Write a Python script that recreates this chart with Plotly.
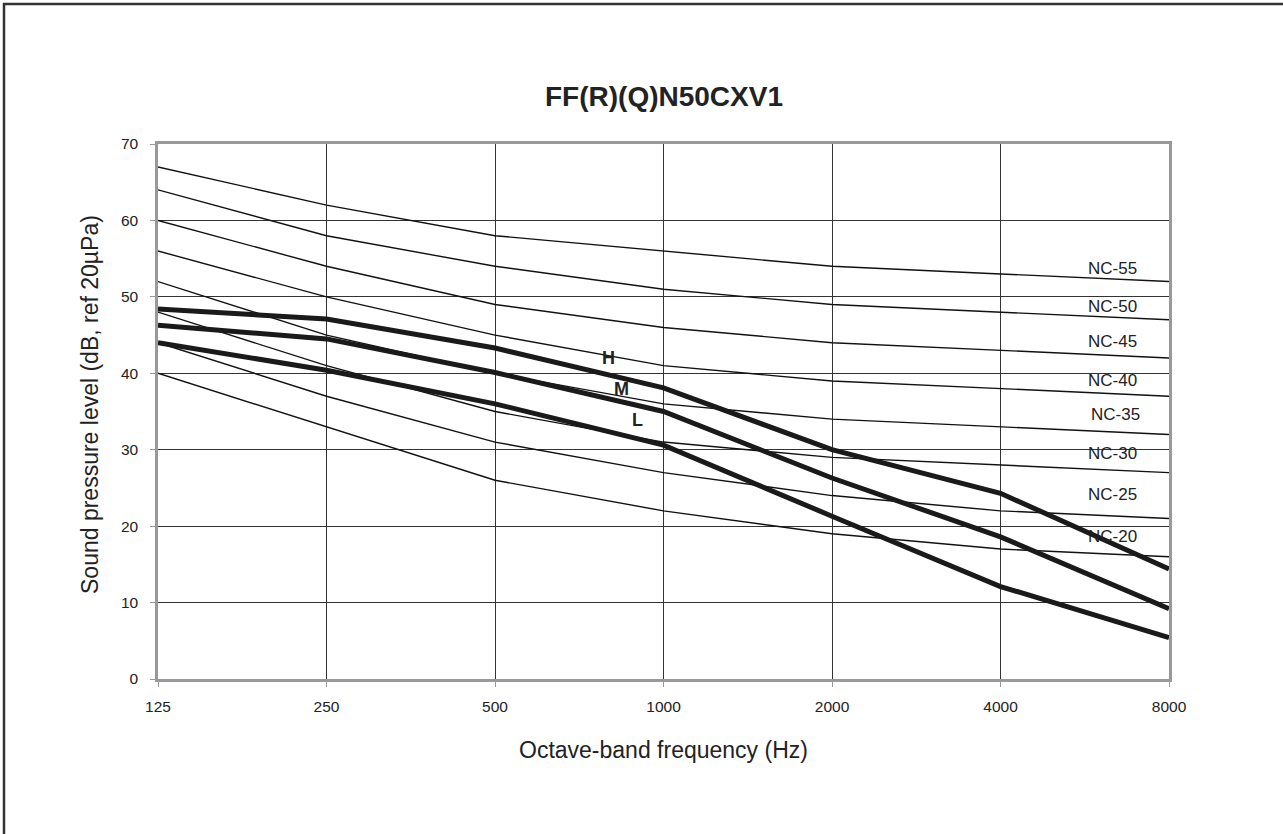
import plotly.graph_objects as go
import math

freqs = [125, 250, 500, 1000, 2000, 4000, 8000]
freq_labels = ["125", "250", "500", "1000", "2000", "4000", "8000"]
y_ticks = [0, 10, 20, 30, 40, 50, 60, 70]

nc_names = ["NC-20", "NC-25", "NC-30", "NC-35", "NC-40", "NC-45", "NC-50", "NC-55"]
nc20 = [40, 33, 26, 22, 19, 17, 16]
nc25 = [44, 37, 31, 27, 24, 22, 21]
nc30 = [48, 41, 35, 31, 29, 28, 27]
nc35 = [52, 45, 40, 36, 34, 33, 32]
nc40 = [56, 50, 45, 41, 39, 38, 37]
nc45 = [60, 54, 49, 46, 44, 43, 42]
nc50 = [64, 58, 54, 51, 49, 48, 47]
nc55 = [67, 62, 58, 56, 54, 53, 52]
nc_curves = [nc20, nc25, nc30, nc35, nc40, nc45, nc50, nc55]

# NC label positions
nc_label_x = [6330, 6330, 6330, 6420, 6330, 6330, 6330, 6330]
nc_label_y = [18.7, 24.1, 29.5, 34.6, 39.0, 44.2, 48.8, 53.7]

speed_names = ["H", "M", "L"]
h_vals = [48.4, 47.1, 43.3, 38.1, 30.0, 24.3, 14.4]
m_vals = [46.3, 44.5, 40.1, 35.0, 26.3, 18.6, 9.2]
l_vals = [44.0, 40.4, 36.0, 30.6, 21.3, 12.1, 5.4]
speed_curves = [h_vals, m_vals, l_vals]
speed_label_x = [799, 843, 897]
speed_label_y = [42.0, 38.0, 33.9]

FONT = "Liberation Sans, Arial, sans-serif"
TXT = "#222222"

fig = go.Figure()

for name, vals in zip(nc_names, nc_curves):
    fig.add_trace(go.Scatter(x=freqs, y=vals, mode="lines", name=name,
                             line=dict(color="#111111", width=1.4),
                             showlegend=False, hoverinfo="skip"))

for name, vals in zip(speed_names, speed_curves):
    fig.add_trace(go.Scatter(x=freqs, y=vals, mode="lines", name=name,
                             line=dict(color="#1a1a1a", width=5),
                             showlegend=False))

for name, lx, ly in zip(nc_names, nc_label_x, nc_label_y):
    fig.add_annotation(x=math.log10(lx), y=ly, text=name, showarrow=False,
                       font=dict(family=FONT, size=17, color=TXT))

for name, lx, ly in zip(speed_names, speed_label_x, speed_label_y):
    fig.add_annotation(x=math.log10(lx), y=ly, text="<b>" + name + "</b>", showarrow=False,
                       font=dict(family=FONT, size=18, color=TXT))

# geometry in page pixels
L, R, T, B = 158, 114, 144, 155
W, H = 1283, 834
pw, ph = W - L - R, H - T - B
def px(x):
    return (x - L) / pw
def py(y):
    return (H - B - y) / ph

# outer frame (top and left edges, as in the picture)
fig.add_shape(type="line", xref="paper", yref="paper", x0=px(3), x1=px(1283), y0=py(4), y1=py(4),
              line=dict(color="#333333", width=2.5))
fig.add_shape(type="line", xref="paper", yref="paper", x0=px(4), x1=px(4), y0=py(3), y1=py(834),
              line=dict(color="#333333", width=2.5))

# title and axis titles
fig.add_annotation(xref="paper", yref="paper", x=0.5, y=py(96), xanchor="center", yanchor="middle",
                   text="<b>FF(R)(Q)N50CXV1</b>", showarrow=False,
                   font=dict(family=FONT, size=28, color=TXT))
fig.add_annotation(xref="paper", yref="paper", x=0.5, y=py(750), xanchor="center", yanchor="middle",
                   text="Octave-band frequency (Hz)", showarrow=False,
                   font=dict(family=FONT, size=23, color=TXT))
fig.add_annotation(xref="paper", yref="paper", x=px(90), y=py(405), xanchor="center", yanchor="middle",
                   text="Sound pressure level (dB, ref 20µPa)", showarrow=False, textangle=-90,
                   font=dict(family=FONT, size=23, color=TXT))

fig.update_layout(
    width=W, height=H,
    margin=dict(l=L, r=R, t=T, b=B),
    paper_bgcolor="white", plot_bgcolor="white",
    font=dict(family=FONT, color=TXT),
    xaxis=dict(type="log", range=[math.log10(125), math.log10(8000)],
               tickvals=freqs, ticktext=freq_labels,
               showgrid=True, gridcolor="#333333", gridwidth=1,
               showline=True, linecolor="#999999", linewidth=2.5, mirror=True,
               ticks="outside", ticklen=5, tickcolor="#999999",
               ticklabelstandoff=7,
               tickfont=dict(size=15.5, color=TXT),
               zeroline=False),
    yaxis=dict(range=[0, 70], tickvals=y_ticks,
               showgrid=True, gridcolor="#333333", gridwidth=1,
               showline=True, linecolor="#999999", linewidth=2.5, mirror=True,
               ticks="outside", ticklen=5, tickcolor="#999999",
               ticklabelstandoff=9,
               tickfont=dict(size=15.5, color=TXT),
               zeroline=False),
)

fig.write_html("out.html", config={"displayModeBar": False},
               post_script="document.body.style.margin='0px';")
